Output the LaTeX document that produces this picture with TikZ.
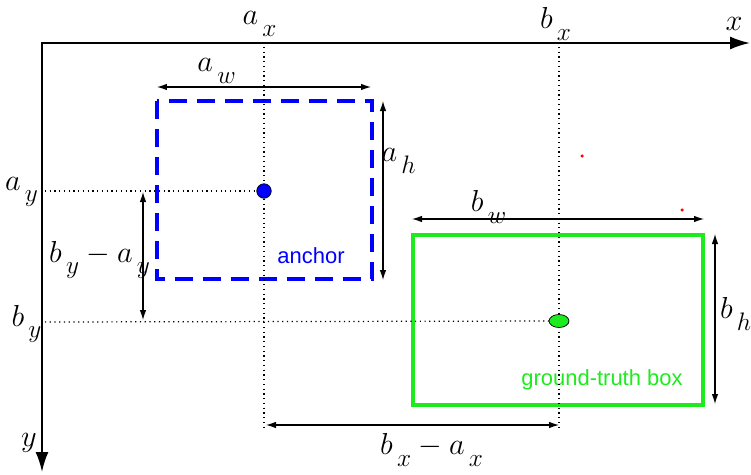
\documentclass[tikz,border=0pt]{standalone}
\usepackage{fontspec}
\setsansfont{Liberation Sans}
\usetikzlibrary{arrows.meta, positioning, shapes.geometric}
\definecolor{anchorblue}{RGB}{0,0,255}
\definecolor{boxgreen}{RGB}{30,235,30}
\newcommand{\lowsub}[2]{#1_{\,\lower4pt\hbox{$\scriptstyle #2$}}}
\tikzstyle{axis} = [{Latex[length=4mm,width=2.6mm]}-{Latex[length=4mm,width=2.6mm]}, line width=1.1pt]
\tikzstyle{dimarrow} = [{Latex[length=2mm,width=1.3mm]}-{Latex[length=2mm,width=1.3mm]}, line width=0.6pt]
\tikzstyle{guide} = [dotted, line width=0.7pt]
\tikzstyle{mathlabel} = [font=\fontsize{19}{22}\selectfont, inner sep=0pt]
\tikzstyle{boxlabel} = [font=\sffamily\fontsize{12.5}{14}\selectfont, inner sep=0pt]
\tikzstyle{anchorbox} = [draw=anchorblue, line width=2.3pt, dash pattern=on 0.36cm off 0.2cm]
\tikzstyle{gtbox} = [draw=boxgreen, line width=2.3pt]
\tikzstyle{speck} = [circle, fill=red, inner sep=0pt, minimum size=0.07cm]

\begin{document}
\begin{tikzpicture}[x=0.02cm, y=-0.02cm]
  \useasboundingbox (0,0) rectangle (751,474);

  % Axes
  \coordinate (origin) at (42,43);
  \coordinate (xend) at (750,43);
  \coordinate (yend) at (42,472);
  \draw[axis] (yend) -- (origin) -- (xend);
  \node[mathlabel] (xlabel) at (734,24) {$x$};
  \node[mathlabel] (ylabel) at (29,443) {$y$};

  % Anchor box
  \coordinate (anw) at (157,101);
  \coordinate (ase) at (372,279);
  \draw[anchorbox] (anw) rectangle (ase);
  \node[boxlabel, text=anchorblue] (anchorlabel) at (311,256) {anchor};

  % Ground-truth box
  \coordinate (bnw) at (413,235);
  \coordinate (bse) at (703,405);
  \draw[gtbox] (bnw) rectangle (bse);
  \node[boxlabel, text=boxgreen] (gtlabel) at (602,380) {ground-truth box};

  % Guide lines
  \coordinate (axtop) at (264,47);
  \coordinate (axbot) at (264,430);
  \coordinate (bxtop) at (559,47);
  \coordinate (bxbot) at (559,430);
  \coordinate (ayleft) at (45,191);
  \coordinate (byleft) at (45,322);
  \coordinate (acentre) at (264,191);
  \coordinate (bcentre) at (559,321);
  \draw[guide] (axtop) -- (axbot);
  \draw[guide] (bxtop) -- (bxbot);
  \draw[guide] (ayleft) -- (acentre);
  \draw[guide] (byleft) -- (bcentre);

  % Centres
  \node[circle, draw=black, fill=anchorblue, inner sep=0pt, minimum size=0.29cm] (adot) at (acentre) {};
  \node[ellipse, draw=black, fill=boxgreen, inner sep=0pt, minimum width=0.4cm, minimum height=0.26cm] (bdot) at (bcentre) {};

  % Coordinate labels
  \node[mathlabel] (axlabel) at (260,24) {$\lowsub{a}{x}$};
  \node[mathlabel] (bxlabel) at (556,24) {$\lowsub{b}{x}$};
  \node[mathlabel] (aylabel) at (22,192) {$\lowsub{a}{y}$};
  \node[mathlabel] (bylabel) at (27,324) {$\lowsub{b}{y}$};

  % Size arrows
  \coordinate (awl) at (157,87);
  \coordinate (awr) at (371,87);
  \coordinate (aht) at (383,101);
  \coordinate (ahb) at (383,280);
  \coordinate (bwl) at (412,219);
  \coordinate (bwr) at (704,219);
  \coordinate (bht) at (715,234);
  \coordinate (bhb) at (715,404);
  \coordinate (dyt) at (143,192);
  \coordinate (dyb) at (143,320);
  \coordinate (dxl) at (266,425);
  \coordinate (dxr) at (559,425);
  \draw[dimarrow] (awl) -- (awr);
  \draw[dimarrow] (aht) -- (ahb);
  \draw[dimarrow] (bwl) -- (bwr);
  \draw[dimarrow] (bht) -- (bhb);
  \draw[dimarrow] (dyt) -- (dyb);
  \draw[dimarrow] (dxl) -- (dxr);
  \node[mathlabel] (awlabel) at (217,71) {$\lowsub{a}{w}$};
  \node[mathlabel] (ahlabel) at (399,161) {$\lowsub{a}{h}$};
  \node[mathlabel] (bwlabel) at (489,207) {$\lowsub{b}{w}$};
  \node[mathlabel] (bhlabel) at (736,314) {$\lowsub{b}{h}$};
  \node[mathlabel] (dylabel) at (100,260) {$\lowsub{b}{y} - \lowsub{a}{y}$};
  \node[mathlabel] (dxlabel) at (432,450) {$\lowsub{b}{x} - \lowsub{a}{x}$};

  % Specks
  \node[speck] (speckone) at (582,156) {};
  \node[speck] (specktwo) at (682,210) {};

\end{tikzpicture}
\end{document}
